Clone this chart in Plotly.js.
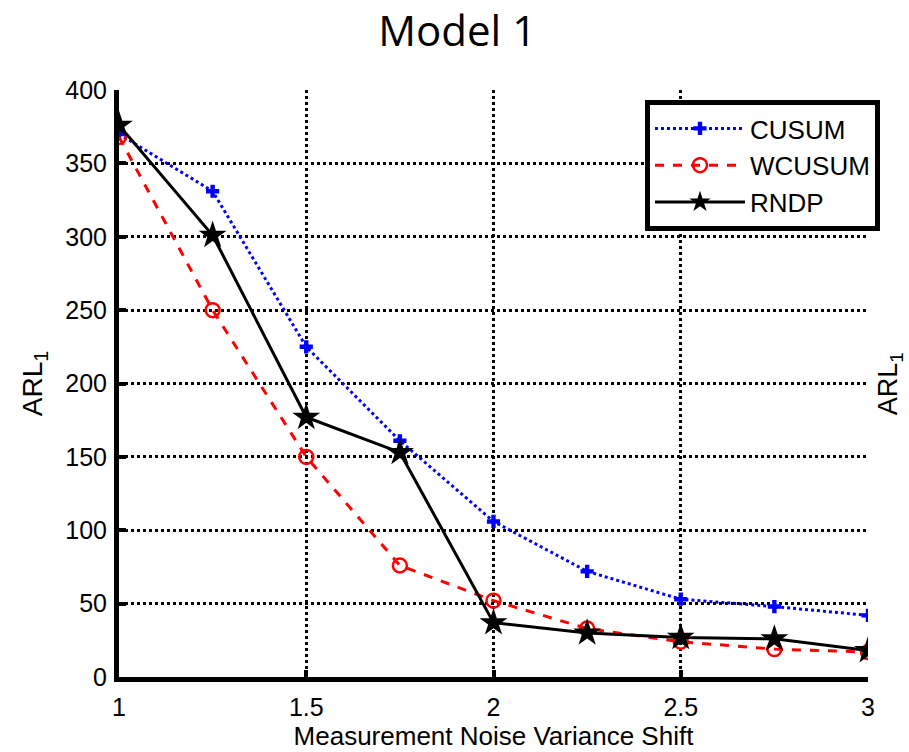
<!DOCTYPE html>
<html>
<head>
<meta charset="utf-8">
<script src="https://cdn.plot.ly/plotly-3.0.1.min.js"></script>
<style>
  html, body { margin: 0; padding: 0; background: #fff; }
  #chart { width: 909px; height: 752px; }
</style>
</head>
<body>
<div id="chart"></div>
<script>
// Variance shift levels on the x axis
const shift = [1, 1.25, 1.5, 1.75, 2, 2.25, 2.5, 2.75, 3];

// Out-of-control average run length for each chart
const cusum  = [370, 331, 225, 161, 106, 72, 53, 48, 42];
const wcusum = [368, 250, 150, 76, 52, 33, 24, 19, 17];
const rndp   = [376, 301, 177, 153, 37, 30, 27, 26, 18];

const xTicks = [1, 1.5, 2, 2.5, 3];
const xTickText = ['1', '1.5', '2', '2.5', '3'];
const yTicks = [0, 50, 100, 150, 200, 250, 300, 350, 400];

const sans = 'Liberation Sans, Arial, sans-serif';
const tickFont = { family: sans, size: 25, color: '#000' };

const traces = [
  {
    x: shift, y: cusum, name: 'CUSUM', type: 'scatter', mode: 'lines+markers',
    line: { color: '#0000ff', width: 3, dash: 'dot' },
    marker: { symbol: 'cross', size: 11, color: '#0000ff' }
  },
  {
    x: shift, y: wcusum, name: 'WCUSUM', type: 'scatter', mode: 'lines+markers',
    line: { color: '#ff0000', width: 3, dash: 'dash' },
    marker: { symbol: 'circle-open', size: 14, color: '#ff0000', line: { width: 2.5, color: '#ff0000' } }
  },
  {
    x: shift, y: rndp, name: 'RNDP', type: 'scatter', mode: 'lines+markers',
    line: { color: '#000000', width: 3 },
    marker: { symbol: 'star', size: 21, color: '#000000' }
  }
];

const layout = {
  width: 909, height: 752,
  paper_bgcolor: '#fff', plot_bgcolor: '#fff',
  margin: { l: 119, r: 41, t: 90, b: 75 },
  showlegend: true,
  title: {
    text: 'Model 1',
    font: { family: 'Open Sans, Lato, sans-serif', size: 42, color: '#000' },
    x: 0.503, xanchor: 'center', y: 0.958, yanchor: 'middle'
  },
  xaxis: {
    range: [1, 3], tickvals: xTicks, ticktext: xTickText,
    showgrid: true, gridcolor: '#000', griddash: 'dot', gridwidth: 3,
    zeroline: false, showline: true, linecolor: '#000', linewidth: 5,
    ticks: 'inside', ticklen: 7, tickwidth: 4, tickcolor: '#000',
    tickfont: tickFont, ticklabelstandoff: 4,
    title: { text: 'Measurement Noise Variance Shift', font: { family: sans, size: 26, color: '#000' }, standoff: 4 }
  },
  yaxis: {
    range: [0, 400], tickvals: yTicks,
    showgrid: true, gridcolor: '#000', griddash: 'dot', gridwidth: 3,
    zeroline: false, showline: true, linecolor: '#000', linewidth: 5,
    ticks: 'inside', ticklen: 7, tickwidth: 4, tickcolor: '#000',
    tickfont: tickFont, ticklabelstandoff: 2,
    title: { text: 'ARL<sub>1</sub>', font: { family: sans, size: 28, color: '#000' }, standoff: 16 }
  },
  legend: {
    x: 1.016, xanchor: 'right', y: 0.983, yanchor: 'top',
    bgcolor: '#fff', bordercolor: '#000', borderwidth: 5,
    font: { family: sans, size: 26, color: '#000' },
    itemwidth: 90, tracegroupgap: 0
  },
  annotations: [
    {
      text: 'ARL<sub>1</sub>', xref: 'paper', yref: 'paper',
      x: 1.029, y: 0.5, xanchor: 'center', yanchor: 'middle',
      textangle: -90, showarrow: false,
      font: { family: sans, size: 27, color: '#000' }
    }
  ]
};

Plotly.newPlot('chart', traces, layout, { displayModeBar: false, staticPlot: true });
</script>
</body>
</html>
